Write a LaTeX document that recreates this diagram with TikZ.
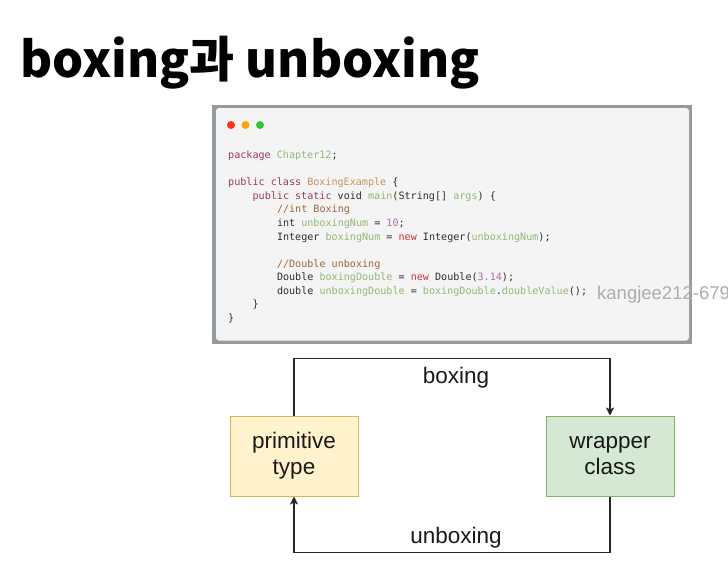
\documentclass[tikz,border=0pt]{standalone}
\usepackage{fontspec}
\usepackage{xcolor}
\usepackage{tikz}
\usetikzlibrary{arrows.meta, positioning}

\setsansfont{Liberation Sans}
\setmonofont{DejaVu Sans Mono}
\newfontfamily\krfont{Noto Sans CJK KR}

\definecolor{framegray}{HTML}{939AA0}
\definecolor{panelbg}{HTML}{F4F4F4}
\definecolor{codetxt}{HTML}{2E2E2E}
\definecolor{kwcol}{HTML}{9A3B4E}
\definecolor{idcol}{HTML}{93B873}
\definecolor{clscol}{HTML}{C8935A}
\definecolor{cmtcol}{HTML}{A0653A}
\definecolor{numcol}{HTML}{B06FA3}
\definecolor{newcol}{HTML}{C8343A}
\definecolor{primfill}{HTML}{FFF2CC}
\definecolor{primline}{HTML}{D6B656}
\definecolor{wrapfill}{HTML}{D5E8D4}
\definecolor{wrapline}{HTML}{82B366}

\newcommand\kwd[1]{\textcolor{kwcol}{#1}}
\newcommand\idn[1]{\textcolor{idcol}{#1}}
\newcommand\clsn[1]{\textcolor{clscol}{#1}}
\newcommand\cmt[1]{\textcolor{cmtcol}{#1}}
\newcommand\numc[1]{\textcolor{numcol}{#1}}
\newcommand\nw[1]{\textcolor{newcol}{#1}}

\tikzset{
  codeline/.style={anchor=base west, inner sep=0pt, text=codetxt,
    font=\ttfamily\fontsize{10.1}{12}\selectfont},
  typebox/.style={minimum width=128pt, minimum height=80pt, inner sep=0pt,
    align=center, line width=1pt, text=black!90,
    font=\sffamily\fontsize{22.5}{26}\selectfont},
  flowlbl/.style={anchor=base, inner sep=0pt, text=black!90,
    font=\sffamily\fontsize{22.5}{26}\selectfont},
  flow/.style={draw=black!85, line width=1.3pt,
    -{Stealth[length=8pt, width=8pt, inset=2pt]}},
}

\begin{document}
\begin{tikzpicture}[x=1pt, y=-1pt]
\useasboundingbox (0,0) rectangle (728,562);
\fill[white] (0,0) rectangle (728,562);

% title
\node[anchor=base west, inner sep=0pt, font=\krfont\bfseries\fontsize{49}{56}\selectfont]
  (title) at (20,77) {boxing과 unboxing};

% code window
\fill[framegray] (212,105) rectangle (692,344);
\fill[panelbg, rounded corners=3pt] (216,108) rectangle (689,340.5);
\fill[red!80!orange!90] (231,125) circle (4pt);
\fill[orange!70!yellow] (245.5,125) circle (4pt);
\fill[green!70!black!80] (260,125) circle (4pt);

\node[codeline] (l1) at (228,158) {\kwd{package} \idn{Chapter12};};
\node[codeline] (l2) at (228,185) {\kwd{public class} \clsn{BoxingExample} \{};
\node[codeline] (l3) at (252.4,199) {\kwd{public static} void \idn{main}(String[] \idn{args}) \{};
\node[codeline] (l4) at (276.8,212.5) {\cmt{//int Boxing}};
\node[codeline] (l5) at (276.8,226) {int \idn{unboxingNum} = \numc{10};};
\node[codeline] (l6) at (276.8,240) {Integer \idn{boxingNum} = \nw{new} Integer(\idn{unboxingNum});};
\node[codeline] (l7) at (276.8,267) {\cmt{//Double unboxing}};
\node[codeline] (l8) at (276.8,280.5) {Double \idn{boxingDouble} = \nw{new} Double(\numc{3.14});};
\node[codeline] (l9) at (276.8,294) {double \idn{unboxingDouble} = \idn{boxingDouble}.\idn{doubleValue}();};
\node[codeline] (l10) at (252.4,307.5) {\}};
\node[codeline] (l11) at (228,321) {\}};

\node[anchor=base west, inner sep=0pt, text=black!32,
  font=\sffamily\fontsize{18.5}{20}\selectfont] (mark) at (597,299.5) {kangjee212-679};

% boxing / unboxing
\node[typebox, draw=primline, fill=primfill] (prim) at (294,456) {primitive\\type};
\node[typebox, draw=wrapline, fill=wrapfill] (wrap) at (610,456) {wrapper\\class};
\node[flowlbl] (boxlbl) at (456,383) {boxing};
\node[flowlbl] (unboxlbl) at (456,543) {unboxing};

\draw[flow] (prim.north) -- ++(0,-57) -| (wrap.north);
\draw[flow] (wrap.south) -- ++(0,56) -| (prim.south);
\end{tikzpicture}
\end{document}
